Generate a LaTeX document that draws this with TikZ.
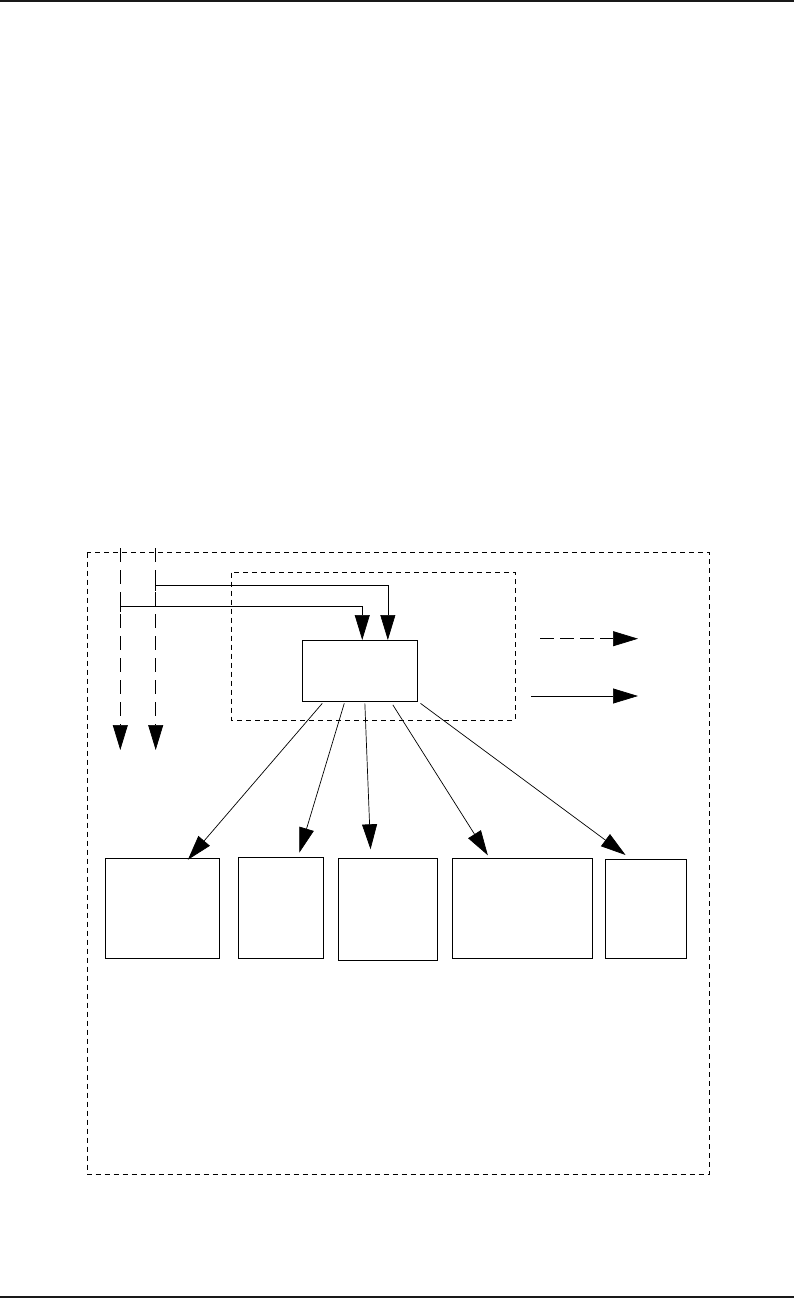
\documentclass[tikz,border=0pt]{standalone}
\usetikzlibrary{arrows.meta}
\begin{document}
\begin{tikzpicture}[x=1pt,y=-1pt,
  box/.style={draw, line width=1.1pt, inner sep=0pt, anchor=north west},
  frame/.style={draw, line width=0.9pt, dash pattern=on 5pt off 4pt},
  arr/.style={line width=0.7pt, -{Triangle[length=25pt,width=15pt]}},
  longdash/.style={dash pattern=on 14pt off 8pt},
  rulebar/.style={fill=black!90}
]
\useasboundingbox (0,0) rectangle (794,1298);
% rules
\fill[rulebar] (0,0) rectangle (794,2.2);
\fill[rulebar] (0,1295.7) rectangle (794,1298);
% frames
\draw[frame] (87.3,552.7) rectangle (709.3,1174.3);
\draw[frame] (231.7,572.7) rectangle (515.3,720);
% central box
\node[box, minimum width=114.4pt, minimum height=61.3pt] (c) at (302.3,640) {};
% bottom boxes
\node[box, minimum width=114pt, minimum height=100pt] (b1) at (105.3,858.3) {};
\node[box, minimum width=85pt, minimum height=101pt] (b2) at (238.3,857.3) {};
\node[box, minimum width=99pt, minimum height=102pt] (b3) at (338.3,858.3) {};
\node[box, minimum width=139.4pt, minimum height=100pt] (b4) at (452.3,858.3) {};
\node[box, minimum width=80.4pt, minimum height=99pt] (b5) at (605.3,859.3) {};
% vertical dashed lines
\coordinate (v1t) at (120.3,548);
\coordinate (v1b) at (120.3,750);
\coordinate (v2t) at (155.7,548);
\coordinate (v2b) at (155.7,750);
\draw[arr, longdash] (v1t) -- (v1b);
\draw[arr, longdash] (v2t) -- (v2b);
% feed lines into central box
\coordinate (f1) at (120.3,606.3);
\coordinate (f2) at (155.7,585.3);
\draw[line width=0.7pt] ([yshift=6pt]f1) -- ([yshift=-6pt]f1);
\draw[line width=0.7pt] ([yshift=6pt]f2) -- ([yshift=-6pt]f2);
\draw[arr] (f1) -| ([xshift=2.2pt]c.north);
\draw[arr] (f2) -| ([xshift=27.8pt]c.north);
% arrows to bottom boxes
\draw[arr] ([xshift=-37.8pt,yshift=-1pt]c.south) -- ([xshift=25pt,yshift=-1.5pt]b1.north);
\draw[arr] ([xshift=-15.8pt,yshift=-1pt]c.south) -- ([xshift=18pt,yshift=4.6pt]b2.north);
\draw[arr] ([xshift=4.8pt,yshift=-1pt]c.south) -- ([xshift=-17.8pt,yshift=9pt]b3.north);
\draw[arr] ([xshift=32.8pt,yshift=-2.5pt]c.south) -- ([xshift=-34.7pt,yshift=3pt]b4.north);
\draw[arr] ([xshift=60.5pt,yshift=-1pt]c.south) -- ([xshift=-20.5pt,yshift=4.3pt]b5.north);
% legend arrows
\coordinate (l1a) at (540,638.7);
\coordinate (l1b) at (638,638.7);
\coordinate (l2a) at (531,696);
\coordinate (l2b) at (638,696);
\draw[arr, dash pattern=on 14pt off 6pt] (l1a) -- (l1b);
\draw[arr] (l2a) -- (l2b);
\end{tikzpicture}
\end{document}
